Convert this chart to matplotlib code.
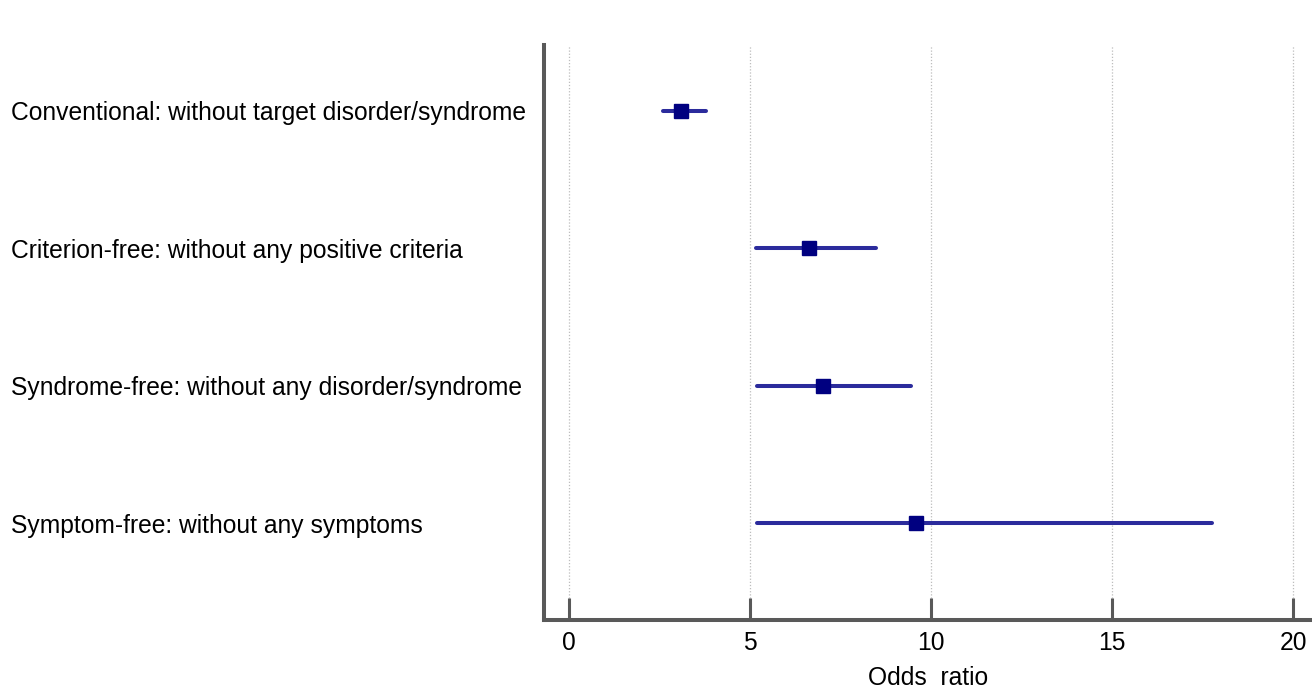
import matplotlib
matplotlib.use("Agg")
import matplotlib.pyplot as plt

categories = [
    "Conventional: without target disorder/syndrome",
    "Criterion-free: without any positive criteria",
    "Syndrome-free: without any disorder/syndrome",
    "Symptom-free: without any symptoms",
]
odds_ratio = [3.10, 6.63, 7.01, 9.58]
ci_low = [2.60, 5.18, 5.20, 5.20]
ci_high = [3.78, 8.48, 9.45, 17.75]
xticks = [0, 5, 10, 15, 20]

plt.rcParams['font.family'] = ['Liberation Sans', 'DejaVu Sans']
FS = 17.7

fig = plt.figure(figsize=(13.12, 6.91), dpi=100)
ax = fig.add_axes([543.5 / 1312, 1 - 620 / 691, 1 - 543.5 / 1312, (620 - 45) / 691])

ys = list(range(len(categories)))
for y, lo, hi in zip(ys, ci_low, ci_high):
    ax.plot([lo, hi], [y, y], color='#2b2b9c', lw=2.9, solid_capstyle='round', zorder=3)
ax.plot(odds_ratio, ys, linestyle='none', marker='s', markersize=10,
        markerfacecolor='#000080', markeredgecolor='#000080', zorder=4)

ax.set_xlim(-0.70, 20.52)
ax.set_ylim(3.706, -0.48)
ax.set_xticks(xticks)
ax.set_xticklabels([str(t) for t in xticks], fontsize=FS)
ax.set_yticks(ys)
ax.set_yticklabels(categories, fontsize=FS, ha='left')
ax.tick_params(axis='y', length=0, pad=(543.5 - 11) * 0.72)
ax.tick_params(axis='x', direction='in', length=15.5, width=2.2, color='#595959', pad=8)
ax.xaxis.grid(True, linestyle=(0, (1, 1.5)), color='#bdbdbd', lw=0.9)
ax.set_axisbelow(True)

for s in ['top', 'right']:
    ax.spines[s].set_visible(False)
for s in ['left', 'bottom']:
    ax.spines[s].set_color('#595959')
    ax.spines[s].set_linewidth(2.9)

ax.set_xlabel("Odds  ratio", fontsize=FS, labelpad=8)

fig.savefig("out.png", dpi=100)
